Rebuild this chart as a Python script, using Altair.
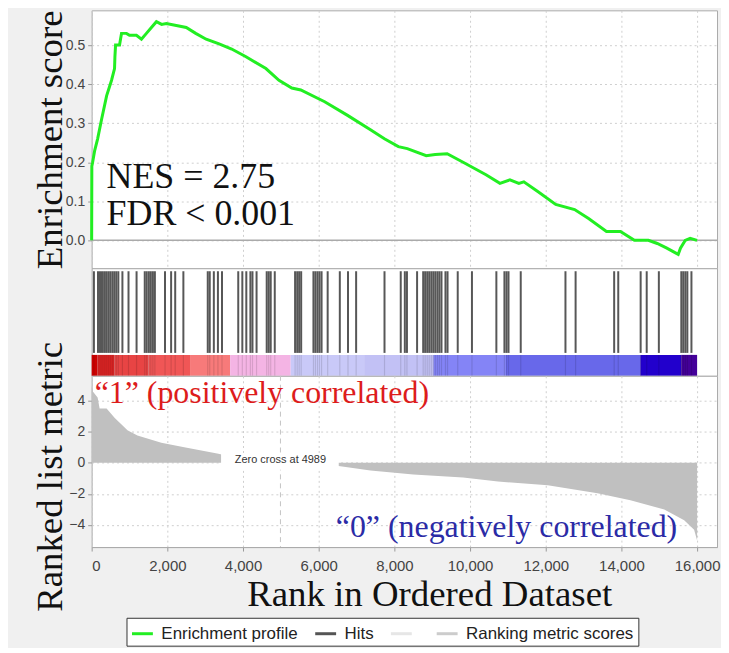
import altair as alt
import pandas as pd

# ---------------- data ----------------
es_rank = [0, 5, 26, 80, 158, 263, 395, 526, 605, 615, 632, 737, 789, 921, 1000, 1184,
           1316, 1447, 1579, 1711, 1850, 1974, 2237, 2500, 2750, 3026, 3368, 3700, 4079,
           4605, 4950, 5289, 5526, 6158, 6763, 7368, 7737, 8105, 8342, 8842, 9079, 9395,
           9816, 10421, 10789, 11053, 11289, 11421, 11789, 12263, 12763, 13132, 13605,
           13974, 14342, 14711, 14947, 15200, 15500, 15560, 15684, 15816, 16000]
es_val = [0.0, 0.19, 0.20, 0.23, 0.26, 0.31, 0.37, 0.41, 0.44, 0.47, 0.50, 0.50, 0.53,
          0.53, 0.525, 0.525, 0.515, 0.53, 0.545, 0.56, 0.553, 0.555, 0.55, 0.545, 0.53,
          0.515, 0.503, 0.49, 0.47, 0.44, 0.41, 0.39, 0.385, 0.355, 0.32, 0.283, 0.26,
          0.24, 0.235, 0.217, 0.22, 0.222, 0.20, 0.168, 0.146, 0.155, 0.146, 0.15, 0.125,
          0.092, 0.079, 0.056, 0.023, 0.023, 0.0, 0.0, -0.008, -0.02, -0.036, -0.02, 0.0,
          0.005, 0.0]

hit_ranks = [60, 168, 221, 274, 329, 382, 437, 490, 545, 597, 650, 705, 813, 974, 1187,
             1403, 1455, 1511, 1563, 1618, 1671, 1939, 2100, 2208, 2424, 3068, 3121, 3229,
             3337, 3445, 3874, 3982, 4087, 4195, 4250, 4358, 4626, 4679, 4732, 4839, 5376,
             5432, 5484, 5537, 5861, 5913, 5968, 6021, 6076, 6237, 6558, 6774, 6989, 7739,
             8168, 8276, 8332, 8600, 8761, 8813, 8868, 8921, 8976, 9029, 9082, 9137, 9189,
             9245, 9350, 9405, 9674, 10050, 10695, 10908, 10963, 11016, 11339, 12521,
             12789, 13808, 13916, 14508, 14668, 14989, 15582, 15634, 15689, 15742, 15850]

metric_rank = [0, 26, 158, 210, 395, 605, 947, 1210, 1842, 2447, 3316, 3500, 4200, 4989,
               5600, 6526, 7368, 8500, 9816, 10737, 12053, 13368, 14237, 15132, 15658,
               15921, 16000]
metric_val = [4.9, 4.6, 4.2, 3.5, 3.5, 2.9, 2.1, 1.76, 1.3, 1.0, 0.6, 0.5, 0.3, 0.0,
              -0.1, -0.2, -0.5, -0.75, -0.95, -1.2, -1.45, -1.95, -2.4, -3.0, -3.7,
              -4.3, -5.0]

band_start = [0, 150, 600, 1500, 2600, 3660, 5260, 7200, 9030, 10950, 14500, 15580]
band_end = [150, 600, 1500, 2600, 3660, 5260, 7200, 9030, 10950, 14500, 15580, 16000]
band_level = ["p6", "p5", "p4", "p3", "p2", "p1", "n1", "n2", "n3", "n4", "n5", "n6"]
band_colors = ["#cc0000", "#dd2424", "#e84444", "#f05656", "#f77a7a", "#f4b4e4",
               "#c9c9f8", "#c2c1f5", "#8484f6", "#6868ea", "#2200cc", "#440099"]

legend_names = ["Enrichment profile", "Hits", " ", "Ranking metric scores"]
legend_colors = ["#22ee22", "#555555", "#e6e6e6", "#cccccc"]

x_ticks = [0, 2000, 4000, 6000, 8000, 10000, 12000, 14000, 16000]
es_ticks = [0.0, 0.1, 0.2, 0.3, 0.4, 0.5]
metric_ticks = [-4, -2, 0, 2, 4]
zero_cross = 4989

# ---------------- layout ----------------
W = 628
XMAX = 16526
SERIF = "Liberation Serif"
SANS = "Liberation Sans"

xs = alt.Scale(domain=[0, XMAX], nice=False, zero=False)
grid_kw = dict(gridColor="#cfcfcf", gridDash=[2, 3], gridWidth=1)
ylab_kw = dict(labelFont=SANS, labelFontSize=14, labelColor="#444", tickColor="#999",
               tickSize=4, labelPadding=3, domain=False,
               titleFont=SERIF, titleFontSize=37, titleFontWeight="normal",
               titleColor="#111", titleX=-22)

es_df = pd.DataFrame({"rank": es_rank, "es": es_val})
es_y = alt.Scale(domain=[-0.0714, 0.589], nice=False, zero=False)
x_top = alt.X("rank:Q", scale=xs,
              axis=alt.Axis(values=x_ticks, labels=False, ticks=False, domain=False,
                            title=None, grid=True, **grid_kw))

es_line = alt.Chart(es_df).mark_line(color="#22ee22", strokeWidth=3).encode(
    x=x_top,
    y=alt.Y("es:Q", scale=es_y,
            axis=alt.Axis(values=es_ticks, format=".1f", title="Enrichment score",
                          grid=True, **grid_kw, **ylab_kw)),
)
es_zero = alt.Chart(pd.DataFrame({"v": [0.0]})).mark_rule(
    color="#aaaaaa", strokeWidth=1.5).encode(y=alt.Y("v:Q", scale=es_y))
stats_df = pd.DataFrame({"rank": [395, 395], "es": [0.161, 0.068],
                         "t": ["NES = 2.75", "FDR < 0.001"]})
stats = alt.Chart(stats_df).mark_text(
    font=SERIF, fontSize=36, align="left", baseline="middle", color="#111").encode(
    x=alt.X("rank:Q", scale=xs), y=alt.Y("es:Q", scale=es_y), text="t:N")
es_chart = alt.layer(es_zero, es_line, stats).properties(width=W, height=259)

# hits + colour band
band_df = pd.DataFrame({"s": band_start, "e": band_end, "lvl": band_level})
band = alt.Chart(band_df).mark_rect().encode(
    x=alt.X("s:Q", scale=xs, axis=None), x2="e:Q",
    y=alt.value(87), y2=alt.value(108),
    fill=alt.Fill("lvl:N", scale=alt.Scale(domain=band_level, range=band_colors),
                  legend=None),
)
hits_df = pd.DataFrame({"rank": hit_ranks})
hits = alt.Chart(hits_df).mark_rule(color="#3a3a3a", strokeWidth=2, opacity=0.85).encode(
    x=alt.X("rank:Q", scale=xs, axis=None),
    y=alt.value(3), y2=alt.value(85),
)
hits_band = alt.Chart(hits_df).mark_rule(color="#000000", strokeWidth=1.2, opacity=0.12).encode(
    x=alt.X("rank:Q", scale=xs, axis=None),
    y=alt.value(87), y2=alt.value(108),
)
hits_chart = alt.layer(band, hits_band, hits).properties(width=W, height=108)

# ranked metric
my = alt.Scale(domain=[-5.42, 5.6], nice=False, zero=False)
m_df = pd.DataFrame({"rank": metric_rank, "m": metric_val, "base": [0.0] * len(metric_rank)})
x_bottom = alt.X("rank:Q", scale=xs,
                 axis=alt.Axis(values=x_ticks, format=",d", grid=True, **grid_kw,
                               labelFont=SANS, labelFontSize=15, labelColor="#444",
                               tickColor="#999", tickSize=4, labelPadding=8,
                               domainColor="#aaaaaa",
                               title="Rank in Ordered Dataset", titleFont=SERIF,
                               titleFontSize=37, titleFontWeight="normal",
                               titleColor="#111", titleX=339, titleY=30))
area = alt.Chart(m_df).mark_area(color="#c0c0c0").encode(
    x=x_bottom,
    y=alt.Y("m:Q", scale=my,
            axis=alt.Axis(values=metric_ticks, format="d", title="Ranked list metric",
                          grid=True, titleY=101, **grid_kw, **ylab_kw)),
    y2="base:Q",
)
zc = alt.Chart(pd.DataFrame({"rank": [zero_cross]})).mark_rule(
    color="#c4c4c4", strokeDash=[5, 4], strokeWidth=1).encode(x=alt.X("rank:Q", scale=xs))
# opaque label box behind the zero-cross note (as in the reference)
zc_box = alt.Chart(pd.DataFrame({"r0": [3420], "r1": [6530], "m0": [-0.45], "m1": [0.62]})).mark_rect(
    color="white").encode(x=alt.X("r0:Q", scale=xs), x2="r1:Q",
                          y=alt.Y("m0:Q", scale=my), y2="m1:Q")
zc_text = alt.Chart(pd.DataFrame({"rank": [zero_cross], "m": [0.15],
                                  "t": ["Zero cross at " + str(zero_cross)]})).mark_text(
    font=SANS, fontSize=11, color="#333", align="center", baseline="middle").encode(
    x=alt.X("rank:Q", scale=xs), y=alt.Y("m:Q", scale=my), text="t:N")
pos_df = pd.DataFrame({"rank": [79], "m": [4.52],
                       "t": ["\u201c1\u201d (positively correlated)"]})
neg_df = pd.DataFrame({"rank": [15474], "m": [-4.13],
                       "t": ["\u201c0\u201d (negatively correlated)"]})
lab_pos = alt.Chart(pos_df).mark_text(
    font=SERIF, fontSize=32, color="#dd1c1c", align="left", baseline="middle").encode(
    x=alt.X("rank:Q", scale=xs), y=alt.Y("m:Q", scale=my), text="t:N")
lab_neg = alt.Chart(neg_df).mark_text(
    font=SERIF, fontSize=32, color="#2b2ba6", align="right", baseline="middle").encode(
    x=alt.X("rank:Q", scale=xs), y=alt.Y("m:Q", scale=my), text="t:N")
leg_df = pd.DataFrame({"series": legend_names, "rank": [0] * 4, "m": [0.0] * 4})
leg = alt.Chart(leg_df).mark_line(strokeWidth=3).encode(
    x=alt.X("rank:Q", scale=xs), y=alt.Y("m:Q", scale=my),
    color=alt.Color("series:N", scale=alt.Scale(domain=legend_names, range=legend_colors),
                    legend=alt.Legend(title=None, orient="none", legendX=35, legendY=610,
                                      direction="horizontal",
                                      symbolType="stroke", symbolStrokeWidth=3,
                                      symbolSize=440, labelFont=SANS, labelFontSize=17,
                                      labelColor="#222", labelLimit=400, labelOffset=7,
                                      columnPadding=10, padding=4, strokeColor="#333",
                                      fillColor="white")),
)
metric_chart = alt.layer(area, zc, zc_box, zc_text, lab_pos, lab_neg, leg).properties(
    width=W, height=172)

chart = alt.vconcat(es_chart, hits_chart, metric_chart, spacing=0, bounds="flush").properties(
    background="#f0f0f0",
    padding={"left": 23, "top": 0, "right": 0, "bottom": 0},
).configure_view(stroke="#aaaaaa", fill="white")

chart.save("out.html", embed_options={"renderer": "svg", "actions": False})
